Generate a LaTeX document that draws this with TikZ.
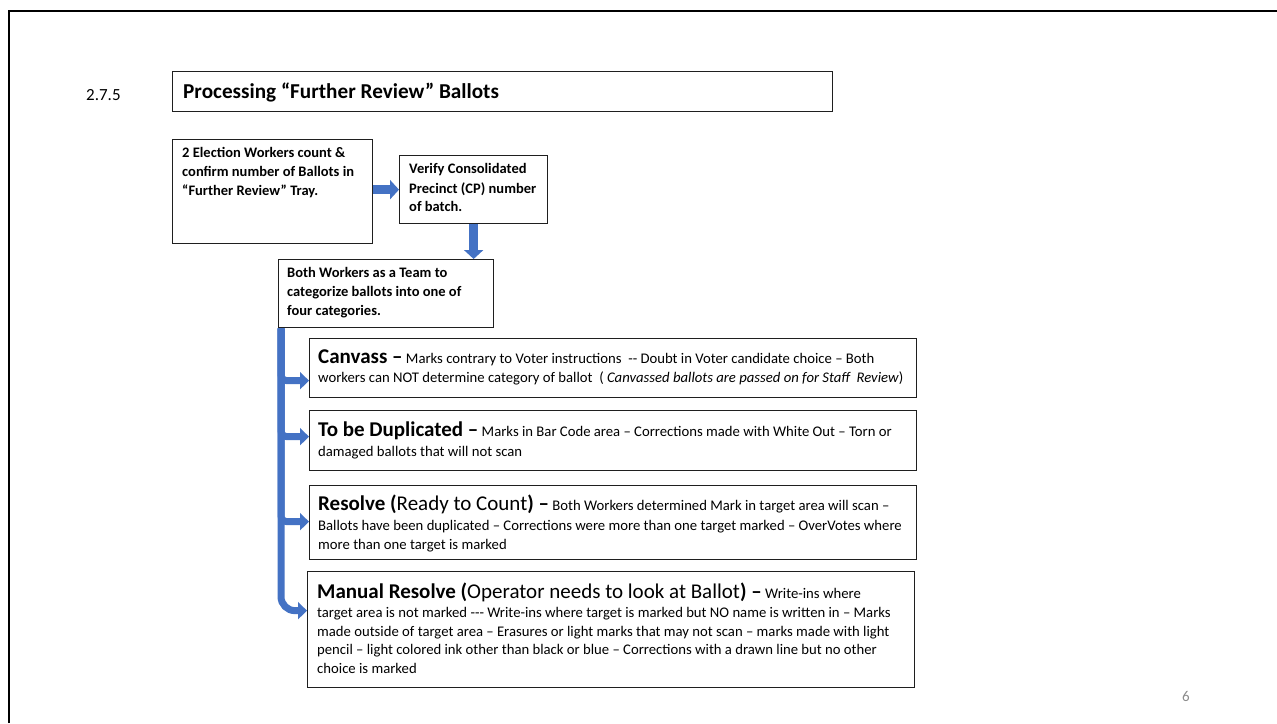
\documentclass[tikz,border=0pt]{standalone}
\usepackage{fontspec}
\setmainfont{Carlito}
\usetikzlibrary{arrows.meta,calc}
\definecolor{arrowblue}{HTML}{4472C4}
\definecolor{pagegray}{HTML}{8C8C8C}
\newcommand{\bighead}[1]{{\fontsize{21}{24}\selectfont\bfseries #1}}
\newcommand{\bigreg}[1]{{\fontsize{21}{24}\selectfont #1}}
\begin{document}
\begin{tikzpicture}[x=1pt,y=-1pt,
  box/.style={draw=black!88, line width=1.3pt, rectangle, inner sep=0pt, anchor=north west},
  txt/.style={anchor=base west, inner sep=0pt},
  stepfont/.style={font=\fontsize{14.5}{19}\selectfont\bfseries},
  bodyfont/.style={font=\fontsize{14.7}{18.7}\selectfont},
  fat/.style={draw=arrowblue, line width=9pt, -{Triangle[width=19pt,length=9pt]}},
  branch/.style={draw=arrowblue, line width=7pt, -{Triangle[width=17pt,length=9pt]}}
]
\useasboundingbox (0,0) rectangle (1277,723);
\fill[white] (0,0) rectangle (1277,723);
\draw[line width=2.5pt, black] (9,723) -- (9,11) -- (1277,11);

% title
\node[txt, font=\fontsize{17}{20}\selectfont] (secnum) at (86,100) {2.7.5};
\node[box, minimum width=660pt, minimum height=40pt] (title) at (172,71) {};
\node[txt, font=\fontsize{21.2}{24}\selectfont\bfseries] (titletext) at (183,98) {Processing “Further Review” Ballots};

% step boxes
\node[box, minimum width=200pt, minimum height=104pt] (b1) at (172,139) {};
\node[txt, stepfont] (b1l1) at (182,157) {2 Election Workers count \&};
\node[txt, stepfont] (b1l2) at (182,176) {confirm number of Ballots in};
\node[txt, stepfont] (b1l3) at (182,195) {“Further Review” Tray.};

\node[box, minimum width=148pt, minimum height=68pt] (b2) at (399,155) {};
\node[txt, stepfont] (b2l1) at (409,173.5) {Verify Consolidated};
\node[txt, stepfont] (b2l2) at (409,193) {Precinct (CP) number};
\node[txt, stepfont] (b2l3) at (409,211) {of batch.};

\node[box, minimum width=215pt, minimum height=68pt] (b3) at (278,259) {};
\node[txt, stepfont] (b3l1) at (287,277.5) {Both Workers as a Team to};
\node[txt, stepfont] (b3l2) at (287,296.5) {categorize ballots into one of};
\node[txt, stepfont] (b3l3) at (287,315) {four categories.};

\draw[fat] (b1.east |- b2.west) -- (b2.west);
\draw[fat] (b2.south) -- (b2.south |- b3.north);

% category boxes
\node[box, minimum width=607pt, minimum height=59pt] (canv) at (309,338) {};
\node[txt, bodyfont] (canvl1) at (318,363) {\bighead{Canvass –} Marks contrary to Voter instructions\ \ -{}- Doubt in Voter candidate choice – Both};
\node[txt, bodyfont] (canvl2) at (318,382) {workers can NOT determine category of ballot\ \ ( \textit{Canvassed ballots are passed on for Staff\ \ Review})};

\node[box, minimum width=607pt, minimum height=60pt] (dup) at (309,410) {};
\node[txt, bodyfont] (dupl1) at (318,436.5) {\bighead{To be Duplicated –} Marks in Bar Code area – Corrections made with White Out – Torn or};
\node[txt, bodyfont] (dupl2) at (318,456) {damaged ballots that will not scan};

\node[box, minimum width=607pt, minimum height=74pt] (res) at (309,485) {};
\node[txt, bodyfont] (resl1) at (318,510) {\bighead{Resolve (}\bigreg{Ready to Count}\bighead{) –} Both Workers determined Mark in target area will scan –};
\node[txt, bodyfont] (resl2) at (318,530) {Ballots have been duplicated – Corrections were more than one target marked – OverVotes where};
\node[txt, bodyfont] (resl3) at (318,549) {more than one target is marked};

\node[box, minimum width=607pt, minimum height=116pt] (man) at (307,571) {};
\node[txt, bodyfont] (manl1) at (317,598.5) {\bighead{Manual Resolve (}\bigreg{Operator needs to look at Ballot}\bighead{) –} Write-ins where};
\node[txt, bodyfont] (manl2) at (317,617) {target area is not marked -{}-{}- Write-ins where target is marked but NO name is written in – Marks};
\node[txt, bodyfont] (manl3) at (317,636) {made outside of target area – Erasures or light marks that may not scan – marks made with light};
\node[txt, bodyfont] (manl4) at (317,654.5) {pencil – light colored ink other than black or blue – Corrections with a drawn line but no other};
\node[txt, bodyfont] (manl5) at (317,673) {choice is marked};

% branching connectors
\coordinate (bartop) at ($(b3.south west)+(3,0)$);
\coordinate (canvin) at ($(canv.west)+(0,12.5)$);
\coordinate (dupin) at ($(dup.west)+(0,-4)$);
\coordinate (resin) at ($(res.west)+(0,-1)$);
\coordinate (manin) at ($(man.west)+(0,-19)$);
\draw[branch, rounded corners=14pt] (bartop) |- (manin);
\draw[branch, rounded corners=6pt] (bartop) |- (resin);
\draw[branch, rounded corners=6pt] (bartop) |- (dupin);
\draw[branch, rounded corners=6pt] (bartop) |- (canvin);

\node[txt, font=\fontsize{15}{18}\selectfont, text=pagegray] (pagenum) at (1182,701) {6};
\end{tikzpicture}
\end{document}
